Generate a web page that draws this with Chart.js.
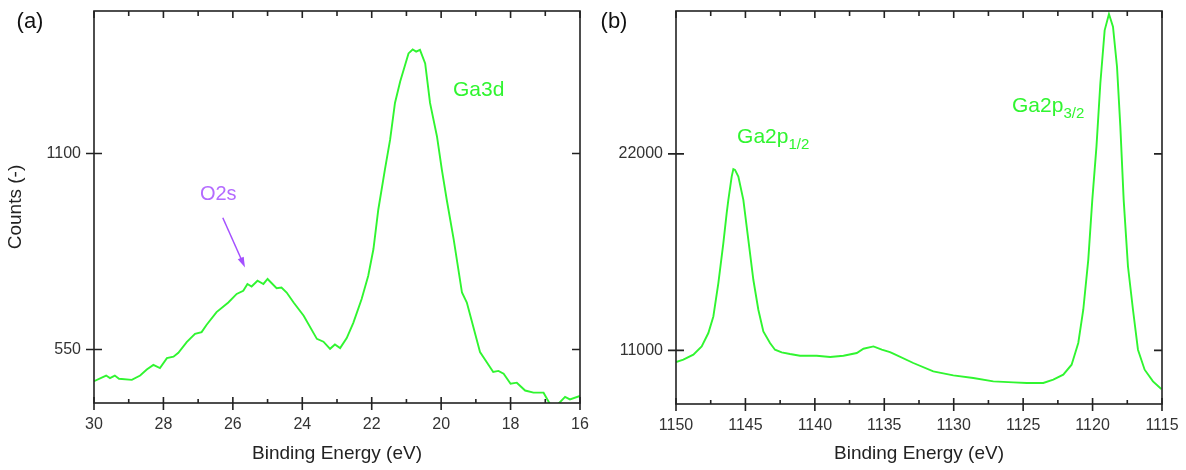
<!DOCTYPE html>
<html>
<head>
<meta charset="utf-8">
<script src="https://cdn.jsdelivr.net/npm/chart.js@4.4.1/dist/chart.umd.min.js"></script>
<style>
    body { margin: 0; background: #fff; }
    #painel { position: relative; width: 1186px; height: 470px; }
    canvas { position: absolute; top: 0; }
    #graficoA { left: 0; }
    #graficoB { left: 593px; }
</style>
</head>
<body>
<div id="painel">
    <canvas id="graficoA" width="593" height="470"></canvas>
    <canvas id="graficoB" width="593" height="470"></canvas>
</div>
<script>
const energiaGa3d = [30.00, 29.65, 29.54, 29.40, 29.28, 28.91, 28.67, 28.48, 28.29, 28.10,
    27.90, 27.71, 27.57, 27.33, 27.09, 26.90, 26.76, 26.47, 26.13, 25.89,
    25.70, 25.58, 25.46, 25.29, 25.12, 25.00, 24.74, 24.60, 24.45, 24.25,
    23.96, 23.58, 23.39, 23.20, 23.06, 22.91, 22.72, 22.53, 22.29, 22.10,
    21.95, 21.81, 21.62, 21.47, 21.33, 21.18, 20.94, 20.82, 20.72, 20.61,
    20.46, 20.32, 20.12, 19.98, 19.84, 19.64, 19.40, 19.26, 18.88, 18.69,
    18.50, 18.35, 18.20, 18.00, 17.82, 17.58, 17.34, 17.05, 16.86, 16.62,
    16.43, 16.29, 16.00];
const contagemGa3d = [461, 477, 470, 477, 468, 465, 477, 494, 507, 498,
    526, 530, 541, 571, 594, 599, 619, 655, 682, 706,
    715, 734, 727, 743, 734, 748, 722, 724, 710, 682,
    645, 580, 572, 552, 564, 554, 582, 625, 692, 757,
    832, 943, 1055, 1139, 1242, 1302, 1381, 1392, 1386, 1391,
    1353, 1242, 1148, 1055, 971, 860, 710, 682, 543, 515,
    487, 490, 482, 454, 457, 435, 429, 429, 396, 398,
    417, 410, 420];

const energiaGa2p = [1150.00, 1149.47, 1148.75, 1148.15, 1147.67, 1147.31, 1146.95, 1146.59, 1146.35, 1146.23,
    1145.99, 1145.87, 1145.75, 1145.51, 1145.15, 1144.79, 1144.43, 1144.07, 1143.71, 1143.23,
    1142.87, 1142.39, 1141.79, 1141.07, 1139.87, 1138.90, 1137.94, 1136.98, 1136.50, 1135.78,
    1135.18, 1134.59, 1134.35, 1132.91, 1131.47, 1130.03, 1128.59, 1127.15, 1125.71, 1124.74,
    1123.55, 1122.83, 1122.11, 1121.51, 1121.03, 1120.67, 1120.31, 1120.02, 1119.72, 1119.44,
    1119.13, 1118.82, 1118.53, 1118.24, 1118.00, 1117.76, 1117.45, 1117.09, 1116.73, 1116.25,
    1115.65, 1115.05];
const contagemGa2p = [10351, 10480, 10760, 11224, 11973, 12901, 14769, 17006, 18683, 19427,
    20730, 21150, 21105, 20730, 19427, 17190, 14954, 13276, 12063, 11414,
    11039, 10888, 10798, 10704, 10704, 10631, 10704, 10855, 11095, 11224,
    11039, 10900, 10815, 10295, 9826, 9602, 9457, 9266, 9211, 9177,
    9177, 9362, 9641, 10200, 11414, 13276, 16072, 19427, 22408, 25954,
    28918, 29828, 29119, 26881, 23527, 19427, 15697, 13276, 11039, 9921,
    9266, 8841];

const ticksEnergiaA = [30, 28, 26, 24, 22, 20, 18, 16];
const ticksMenoresA = [29, 27, 25, 23, 21, 19, 17];
const ticksContagemA = [550, 1100];
const ticksEnergiaB = [1150, 1145, 1140, 1135, 1130, 1125, 1120, 1115];
const ticksMenoresB = [1147.5, 1142.5, 1137.5, 1132.5, 1127.5, 1122.5, 1117.5];
const ticksContagemB = [11000, 22000];

const VERDE = "#30f530";
const FONTE = "'Liberation Sans', Arial, sans-serif";

function pontos(xs, ys) {
    return xs.map((x, i) => ({ x: x, y: ys[i] }));
}

const moldura = {
    id: "moldura",
    afterDraw(chart, args, opts) {
        const ctx = chart.ctx;
        const a = chart.chartArea;
        const sx = chart.scales.x;
        const sy = chart.scales.y;

        ctx.save();
        ctx.strokeStyle = "#222";
        ctx.lineWidth = 1.6;
        ctx.strokeRect(a.left, a.top, a.right - a.left, a.bottom - a.top);

        ctx.beginPath();
        opts.maiores.forEach(v => {
            const px = sx.getPixelForValue(v);
            ctx.moveTo(px, a.bottom - 6); ctx.lineTo(px, a.bottom + 7);
            ctx.moveTo(px, a.top); ctx.lineTo(px, a.top + 7);
        });
        opts.menores.forEach(v => {
            const px = sx.getPixelForValue(v);
            ctx.moveTo(px, a.bottom - 4); ctx.lineTo(px, a.bottom);
            ctx.moveTo(px, a.top); ctx.lineTo(px, a.top + 5);
        });
        opts.ticksY.forEach(v => {
            const py = sy.getPixelForValue(v);
            ctx.moveTo(a.left - 8, py); ctx.lineTo(a.left + 8, py);
            ctx.moveTo(a.right - 8, py); ctx.lineTo(a.right, py);
        });
        ctx.stroke();

        // letra do painel
        ctx.fillStyle = "#111";
        ctx.font = "22px " + FONTE;
        ctx.textAlign = "center";
        ctx.textBaseline = "middle";
        ctx.fillText(opts.letra, opts.letraX, 22);

        // rotulos dos picos
        ctx.textAlign = "left";
        ctx.textBaseline = "alphabetic";
        opts.rotulos.forEach(r => {
            const px = sx.getPixelForValue(r.x);
            const py = sy.getPixelForValue(r.y);
            ctx.fillStyle = r.cor;
            ctx.font = r.tamanho + "px " + FONTE;
            ctx.fillText(r.texto, px, py);
            if (r.sub) {
                const w = ctx.measureText(r.texto).width;
                ctx.font = "15px " + FONTE;
                ctx.fillText(r.sub, px + w, py + 6);
            }
        });

        if (opts.seta) {
            const s = opts.seta;
            const x1 = sx.getPixelForValue(s.x1), y1 = sy.getPixelForValue(s.y1);
            const x2 = sx.getPixelForValue(s.x2), y2 = sy.getPixelForValue(s.y2);
            const ang = Math.atan2(y2 - y1, x2 - x1);
            ctx.strokeStyle = s.cor;
            ctx.fillStyle = s.cor;
            ctx.lineWidth = 1.5;
            ctx.beginPath();
            ctx.moveTo(x1, y1);
            ctx.lineTo(x2 - 8 * Math.cos(ang), y2 - 8 * Math.sin(ang));
            ctx.stroke();
            ctx.beginPath();
            ctx.moveTo(x2, y2);
            ctx.lineTo(x2 - 11 * Math.cos(ang - 0.3), y2 - 11 * Math.sin(ang - 0.3));
            ctx.lineTo(x2 - 11 * Math.cos(ang + 0.3), y2 - 11 * Math.sin(ang + 0.3));
            ctx.closePath();
            ctx.fill();
        }
        ctx.restore();
    }
};

function criarGrafico(idCanvas, xs, ys, cfg) {
    return new Chart(document.getElementById(idCanvas), {
        type: "scatter",
        data: {
            datasets: [{
                data: pontos(xs, ys),
                showLine: true,
                borderColor: VERDE,
                borderWidth: 1.9,
                pointRadius: 0,
                tension: 0
            }]
        },
        options: {
            responsive: false,
            animation: false,
            devicePixelRatio: 1,
            layout: { padding: { top: 11, right: cfg.direita, left: 0, bottom: 0 } },
            plugins: {
                legend: { display: false },
                tooltip: { enabled: false },
                moldura: cfg.moldura
            },
            scales: {
                x: {
                    type: "linear",
                    reverse: true,
                    min: cfg.xMin,
                    max: cfg.xMax,
                    afterBuildTicks: s => { s.ticks = cfg.ticksX.map(v => ({ value: v })); },
                    afterFit: s => {
                        s.height = cfg.alturaX;
                        s.paddingLeft = 0;
                        s.paddingRight = 0;
                    },
                    grid: { display: false, drawTicks: false },
                    border: { display: false },
                    ticks: {
                        padding: 12,
                        autoSkip: false,
                        maxRotation: 0,
                        color: "#333",
                        font: { family: FONTE, size: 16 },
                        callback: v => String(v)
                    },
                    title: {
                        display: true,
                        text: "Binding Energy (eV)",
                        color: "#222",
                        font: { family: FONTE, size: 19 },
                        padding: { top: 0, bottom: 5 }
                    }
                },
                y: {
                    type: "linear",
                    min: cfg.yMin,
                    max: cfg.yMax,
                    afterBuildTicks: s => { s.ticks = cfg.ticksY.map(v => ({ value: v })); },
                    afterFit: s => {
                        s.width = cfg.larguraY;
                        s.paddingTop = 0;
                        s.paddingBottom = 0;
                    },
                    grid: { display: false, drawTicks: false },
                    border: { display: false },
                    ticks: {
                        padding: 13,
                        color: "#333",
                        font: { family: FONTE, size: 16 },
                        callback: v => String(v)
                    },
                    title: {
                        display: cfg.tituloY,
                        text: "Counts (-)",
                        color: "#222",
                        font: { family: FONTE, size: 19 },
                        padding: { top: 4, bottom: 0 }
                    }
                }
            }
        },
        plugins: [moldura]
    });
}

document.addEventListener("DOMContentLoaded", function () {

    criarGrafico("graficoA", energiaGa3d, contagemGa3d, {
        direita: 13, alturaX: 67, larguraY: 94,
        xMin: 16, xMax: 30, yMin: 400, yMax: 1500,
        ticksX: ticksEnergiaA, ticksY: ticksContagemA, tituloY: true,
        moldura: {
            letra: "(a)", letraX: 30,
            maiores: ticksEnergiaA, menores: ticksMenoresA, ticksY: ticksContagemA,
            rotulos: [
                { texto: "O2s", x: 26.95, y: 971, cor: "#b46bff", tamanho: 20 },
                { texto: "Ga3d", x: 19.66, y: 1262, cor: VERDE, tamanho: 21 }
            ],
            seta: { x1: 26.29, y1: 920, x2: 25.65, y2: 780, cor: "#a450ff" }
        }
    });

    criarGrafico("graficoB", energiaGa2p, contagemGa2p, {
        direita: 24, alturaX: 66, larguraY: 83,
        xMin: 1115, xMax: 1150, yMin: 8000, yMax: 30000,
        ticksX: ticksEnergiaB, ticksY: ticksContagemB, tituloY: false,
        moldura: {
            letra: "(b)", letraX: 21,
            maiores: ticksEnergiaB, menores: ticksMenoresB, ticksY: ticksContagemB,
            rotulos: [
                { texto: "Ga2p", sub: "1/2", x: 1145.6, y: 22614, cor: VERDE, tamanho: 21 },
                { texto: "Ga2p", sub: "3/2", x: 1125.8, y: 24348, cor: VERDE, tamanho: 21 }
            ]
        }
    });

});
</script>
</body>
</html>
